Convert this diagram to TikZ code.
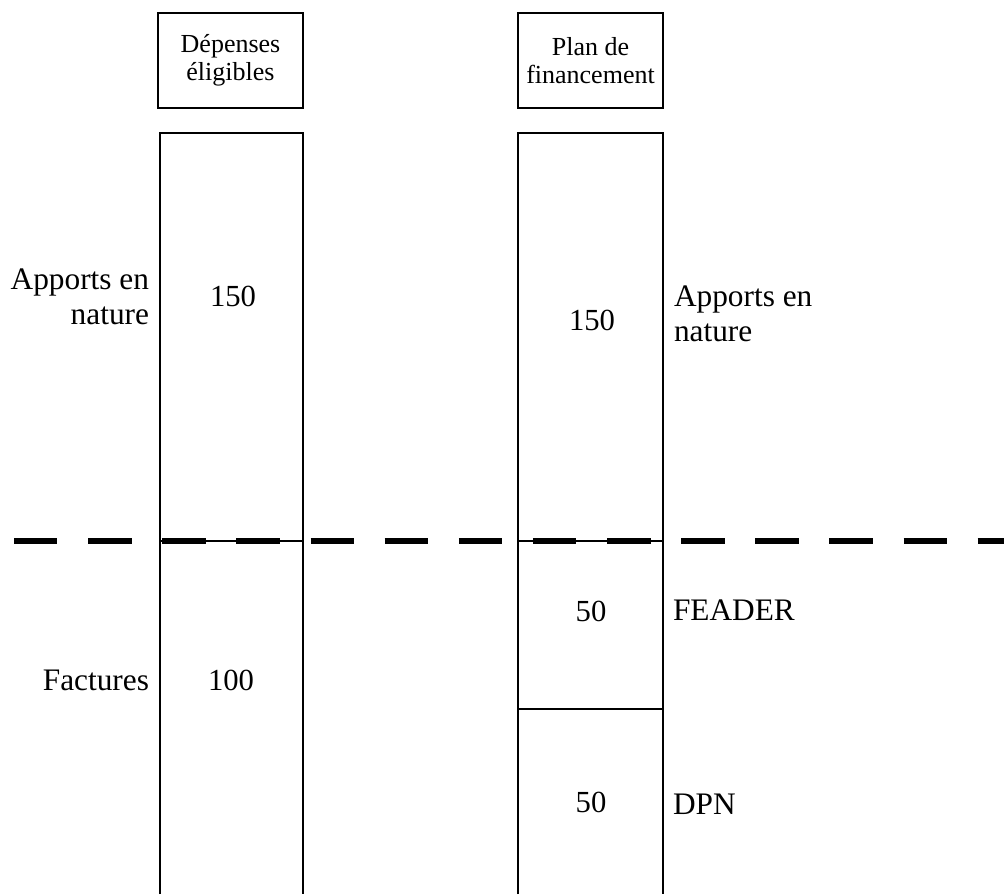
\documentclass[tikz,border=0pt]{standalone}
\usepackage{fontspec}
\setmainfont{Liberation Serif}
\usetikzlibrary{calc}
\newcommand\deuxlignes[2]{#1\\#2}

\begin{document}
\begin{tikzpicture}[x=0.75pt, y=-0.75pt, line width=1.5pt,
    entete/.style={draw, rectangle, minimum width=108.75pt, minimum height=71.25pt, align=center, inner sep=0pt, font=\fontsize{19.5}{21}\selectfont},
    montant/.style={inner sep=0pt, font=\fontsize{23}{26}\selectfont},
    libelle/.style={inner sep=0pt, font=\fontsize{23.5}{26.5}\selectfont}]
      \useasboundingbox (0,0) rectangle (1004,894);
      % en-tetes
      \node [entete] (depenses) at (230.5, 60.5) {\deuxlignes{Dépenses}{éligibles}};
      \node [entete] (plan) at (590.5, 60.5) {\deuxlignes{Plan de}{financement}};
      % colonne des depenses
      \draw (160,894) |- (303,133) -- (303,894);
      \draw (160,541) -- (303,541);
      \node [montant] (dep150) at (233, 296) {150};
      \node [montant] (dep100) at (231, 680) {100};
      \node [libelle, anchor=east, align=right] (natureG) at (150, 297) {\deuxlignes{Apports en}{nature}};
      \node [libelle, anchor=east] (factures) at (150, 680) {Factures};
      % colonne du plan de financement
      \draw (518,894) |- (663,133) -- (663,894);
      \draw (518,541) -- (663,541);
      \draw (518,709) -- (663,709);
      \node [montant] (plan150) at (592, 320) {150};
      \node [montant] (feader50) at (591, 611) {50};
      \node [montant] (dpn50) at (591, 802) {50};
      \node [libelle, anchor=west, align=left] (natureD) at (673, 314) {\deuxlignes{Apports en}{nature}};
      \node [libelle, anchor=west] (feader) at (672, 610) {FEADER};
      \node [libelle, anchor=west] (dpn) at (672, 804) {DPN};
      % ligne de separation
      \draw [line width=4.5pt, dash pattern=on 32.6pt off 23pt] (14,541) -- (1004,541);
    \end{tikzpicture}
\end{document}
